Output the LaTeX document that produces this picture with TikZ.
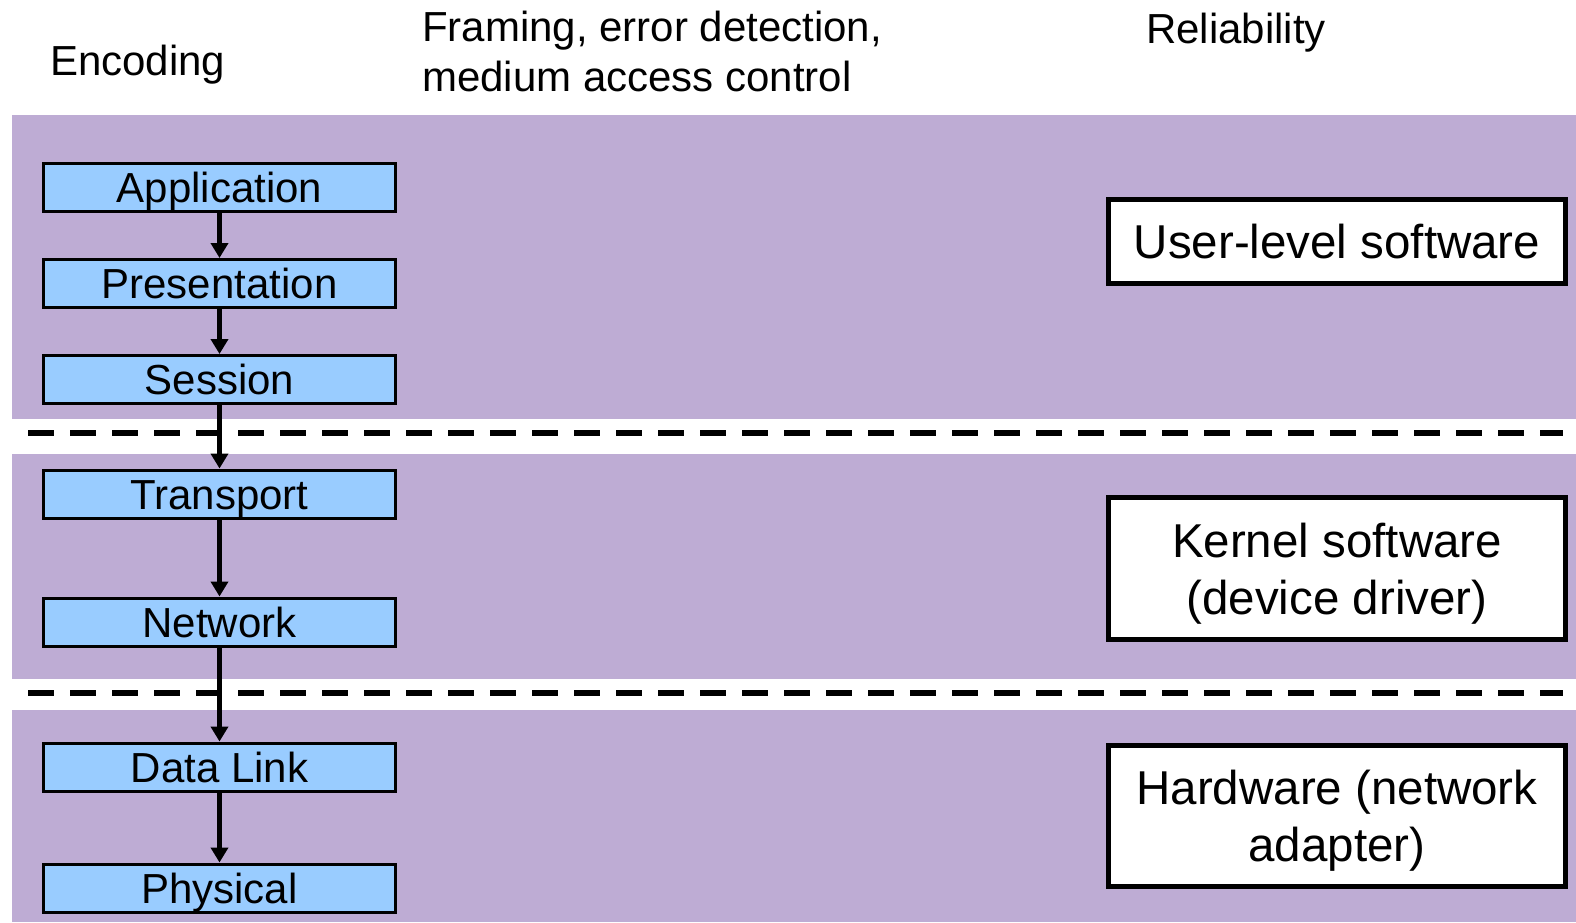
\documentclass[tikz,border=0pt]{standalone}
\usepackage{fontspec}
\setmainfont{Liberation Sans}
\usetikzlibrary{arrows.meta}
\definecolor{band}{RGB}{190,172,212}
\definecolor{layerblue}{RGB}{153,204,255}
\begin{document}
\begin{tikzpicture}[x=1pt,y=-1pt,
  layer/.style={draw=black, line width=3pt, fill=layerblue, minimum width=352pt, minimum height=48pt, inner sep=0pt, text height=30.5pt, text depth=0pt, font=\fontsize{42}{48}\selectfont},
  realm/.style={draw=black, line width=5pt, fill=white, minimum width=457pt, inner sep=0pt, align=center, font=\fontsize{47.5}{57}\selectfont},
  flow/.style={line width=4.5pt, -{Triangle[length=15pt,width=17pt]}},
  sepline/.style={line width=6pt, dash pattern=on 26pt off 16pt},
  toplabel/.style={inner sep=0pt, font=\fontsize{42}{50}\selectfont}
]
\useasboundingbox (0,0) rectangle (1576,922);
% bands
\fill[band] (12,115) rectangle (1576,419);
\fill[band] (12,454) rectangle (1576,679);
\fill[band] (12,710) rectangle (1576,922);
% separators
\coordinate (s1a) at (28,433);
\coordinate (s1b) at (1563,433);
\coordinate (s2a) at (28,693);
\coordinate (s2b) at (1563,693);
\draw[sepline] (s1a) -- (s1b);
\draw[sepline] (s2a) -- (s2b);
% top labels
\node[toplabel, anchor=base west] (enc) at (50,75) {Encoding};
\node[toplabel, anchor=north west, align=left] (fram) at (422,11) {Framing, error detection,\\medium access control};
\node[toplabel, anchor=base west] (rel) at (1146,43) {Reliability};
% layers
\node[layer] (app) at (219.5,187.5) {Application};
\node[layer] (pres) at (219.5,283.5) {Presentation};
\node[layer] (sess) at (219.5,379.5) {Session};
\node[layer] (trans) at (219.5,494) {Transport};
\node[layer] (net) at (219.5,622) {Network};
\node[layer] (dl) at (219.5,767) {Data Link};
\node[layer] (phys) at (219.5,888) {Physical};
\draw[flow] (app) -- (pres);
\draw[flow] (pres) -- (sess);
\draw[flow] (sess) -- (trans);
\draw[flow] (trans) -- (net);
\draw[flow] (net) -- (dl);
\draw[flow] (dl) -- (phys);
% realms
\node[realm, minimum height=84pt, text depth=-3pt] (user) at (1337,241.5) {User-level software};
\node[realm, minimum height=142pt, text depth=0pt] (kern) at (1337,568.5) {Kernel software\\(device driver)};
\node[realm, minimum height=141pt, text depth=0pt] (hw) at (1337,816) {Hardware (network\\adapter)};
\end{tikzpicture}
\end{document}
